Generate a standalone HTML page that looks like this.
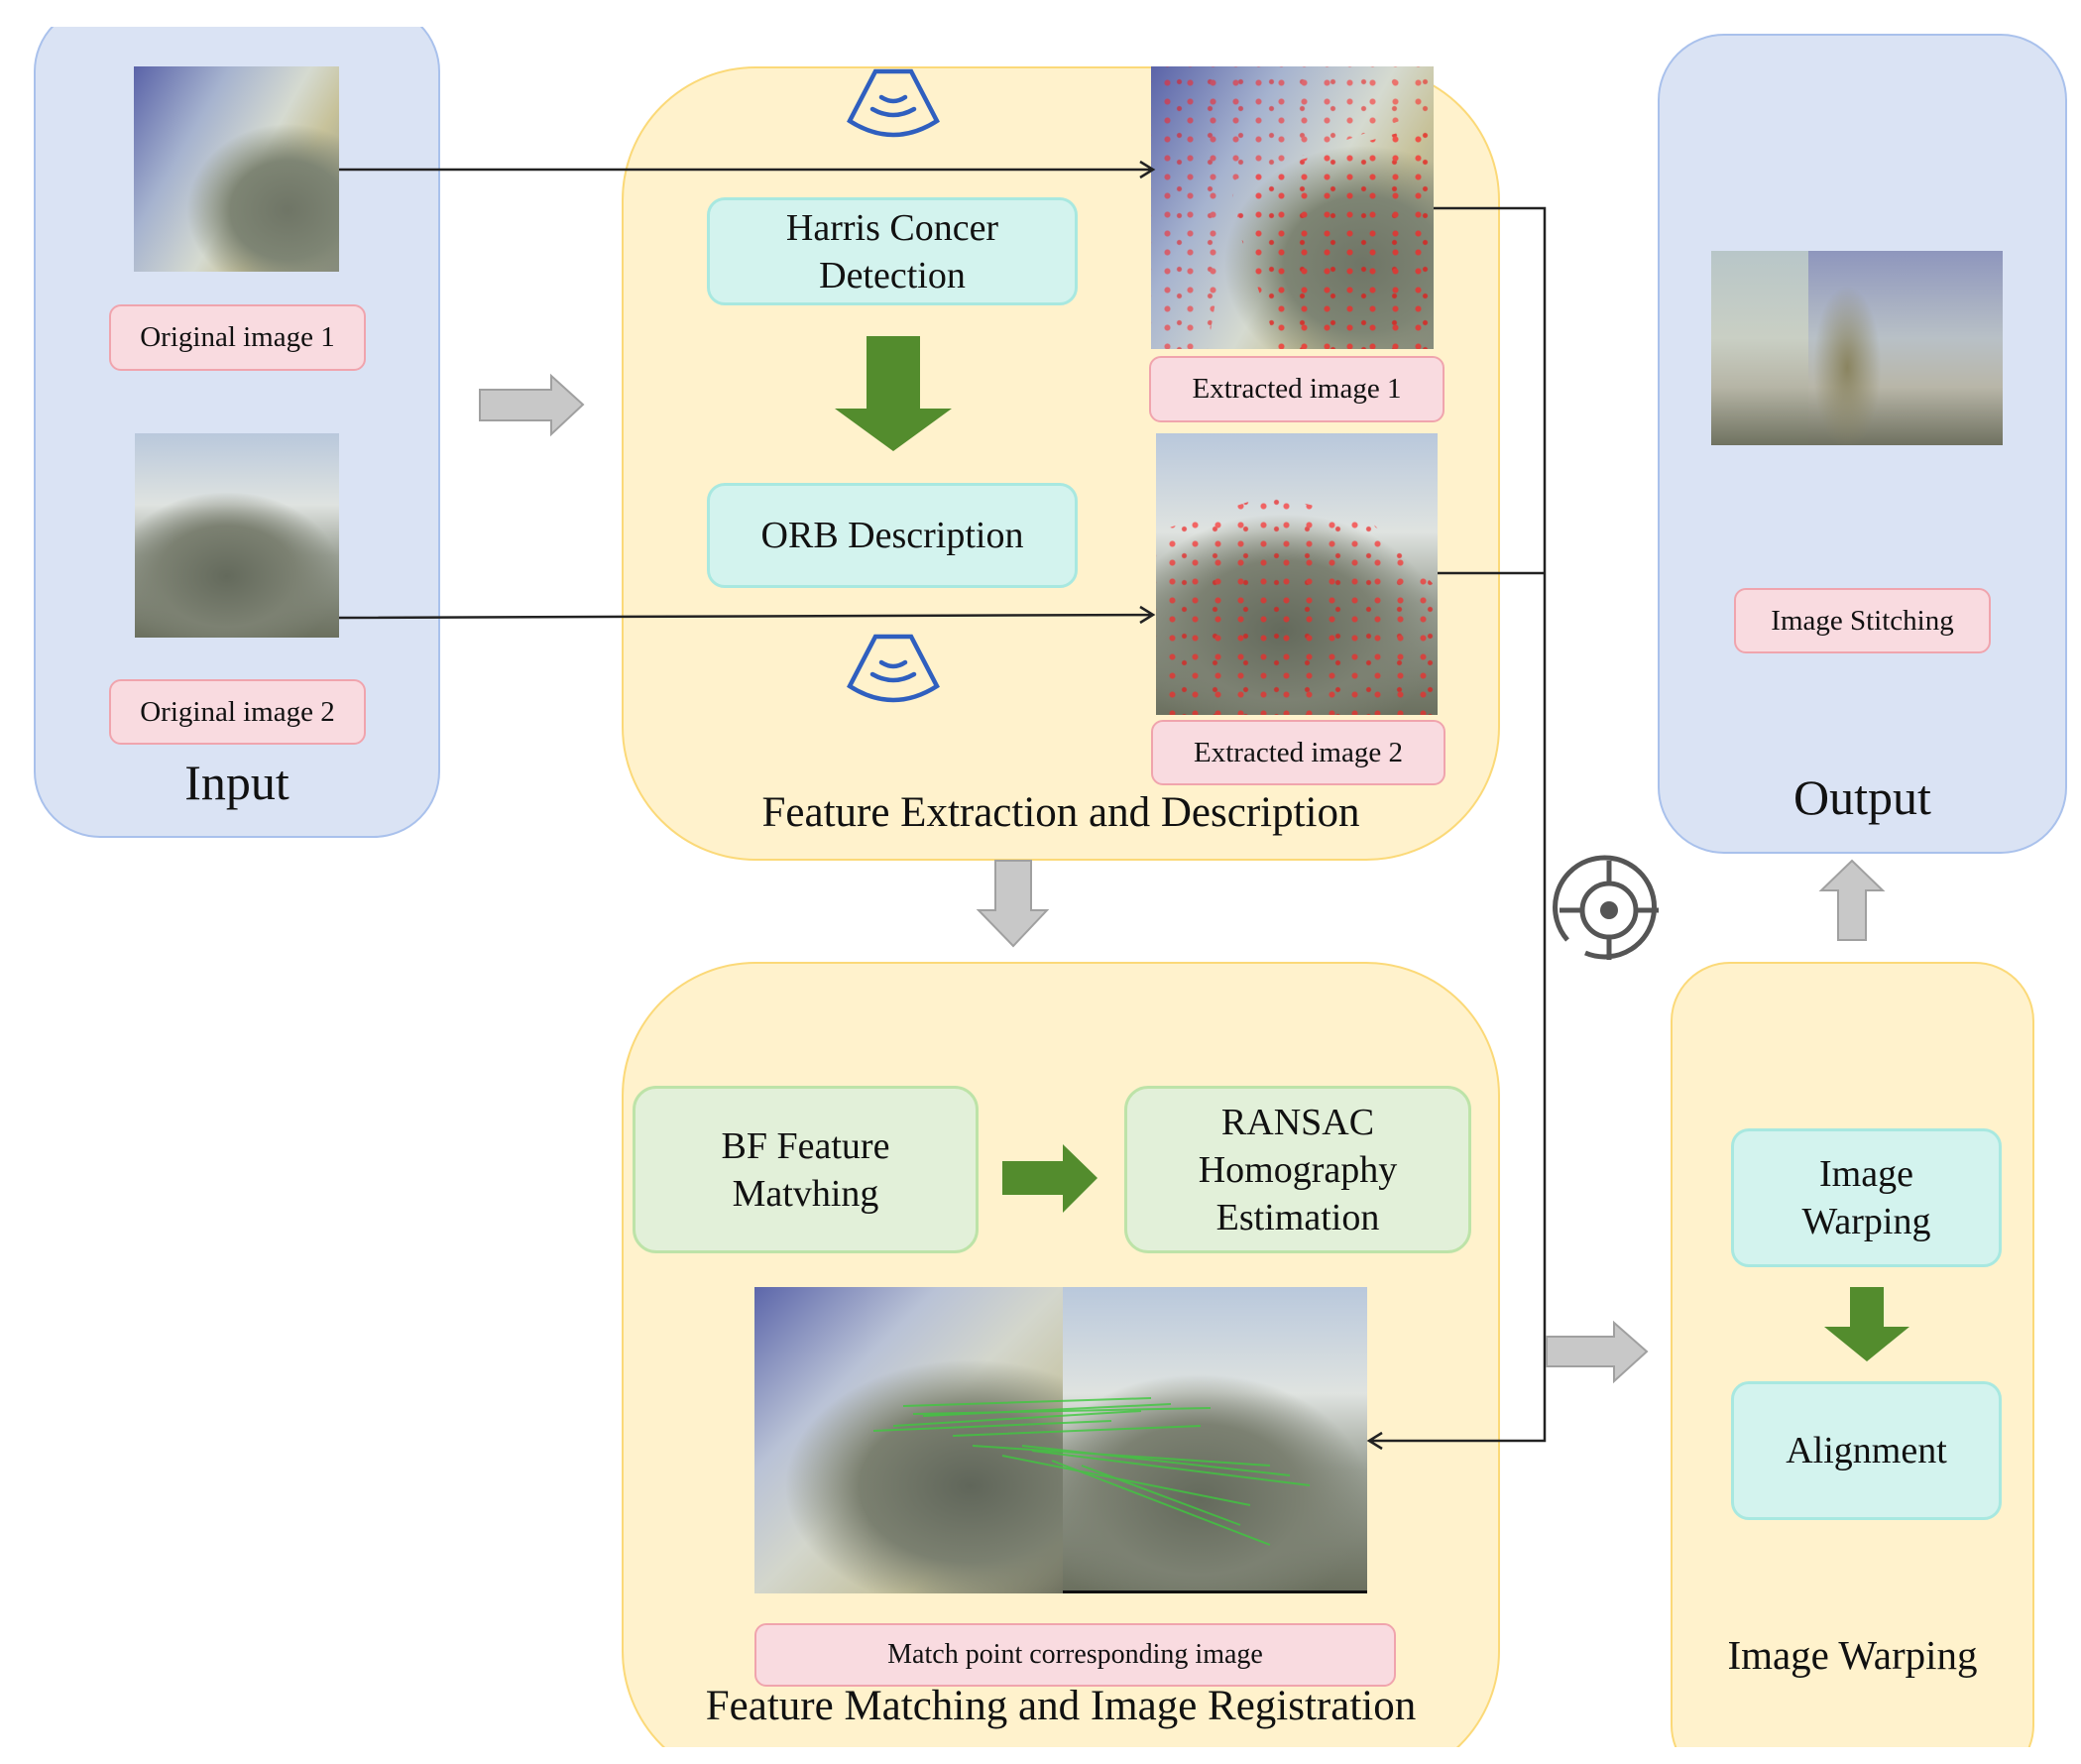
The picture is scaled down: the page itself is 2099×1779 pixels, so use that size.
<!DOCTYPE html>
<html><head><meta charset="utf-8"><style>
html,body{margin:0;padding:0;background:#fff;overflow:hidden}
body{width:2099px;height:1779px;position:relative;overflow:hidden;font-family:"Liberation Serif",serif;color:#111}
.a{position:absolute;box-sizing:border-box}
.panelB{background:#dae3f4;border:2px solid #a9c1ec}
.panelY{background:#fff2cc;border:2px solid #fbd978}
.lab{background:#f9dbe0;border:2px solid #f0a4ad;border-radius:12px;display:flex;align-items:center;justify-content:center;font-size:29px}
.cy{background:#d3f3ee;border:3px solid #a8e8e0;border-radius:18px;display:flex;align-items:center;justify-content:center;text-align:center;font-size:38px;line-height:48px}
.gr{background:#e2f0d9;border:3px solid #bde3a8;border-radius:24px;display:flex;align-items:center;justify-content:center;text-align:center;font-size:38px;line-height:48px}
.t{text-align:center;white-space:nowrap}
.img1{background:radial-gradient(ellipse 70% 60% at 75% 70%,#6f7566 0%,#7e8574 40%,transparent 70%),linear-gradient(120deg,#5a63a8 0%,#a6b3cf 30%,#d5dad0 55%,#c7c29a 70%,#8a8e80 100%)}
.img2{background:radial-gradient(ellipse 75% 55% at 45% 70%,#646a5c 0%,#7c8172 45%,transparent 75%),linear-gradient(180deg,#b9c8dc 0%,#dfe3e0 35%,#9aa095 60%,#6b705f 100%)}
.dots{background-image:radial-gradient(circle,#f22 0 2.5px,transparent 3.5px),radial-gradient(circle,#e11 0 2px,transparent 3px);background-size:23px 19px,31px 27px;background-position:5px 7px,13px 2px}
.clip{position:absolute;left:0;top:0;width:2099px;height:1762px;overflow:hidden}
</style></head><body>
<div class="clip">
<div class="a panelB" style="left:34px;top:5px;width:410px;height:840px;border-radius:67px"></div>
<div class="a panelY" style="left:627px;top:970px;width:886px;height:830px;border-radius:135px"></div>
<div class="a panelY" style="left:1685px;top:970px;width:367px;height:830px;border-radius:60px"></div>
</div>
<div class="a" style="left:0;top:0;width:500px;height:27px;background:#fff"></div>

<!-- Input panel -->
<div class="a img1" style="left:135px;top:67px;width:207px;height:207px"></div>
<div class="a lab" style="left:110px;top:307px;width:259px;height:67px">Original image 1</div>
<div class="a img2" style="left:136px;top:437px;width:206px;height:206px"></div>
<div class="a lab" style="left:110px;top:685px;width:259px;height:66px">Original image 2</div>
<div class="a t" style="left:34px;top:760px;width:410px;font-size:50px">Input</div>

<!-- Feature extraction panel -->
<div class="a panelY" style="left:627px;top:67px;width:886px;height:801px;border-radius:135px"></div>
<div class="a cy" style="left:713px;top:199px;width:374px;height:109px">Harris Concer<br>Detection</div>
<div class="a cy" style="left:713px;top:487px;width:374px;height:106px">ORB Description</div>
<div class="a img1" style="left:1161px;top:67px;width:285px;height:285px"></div>
<div class="a dots" style="left:1161px;top:67px;width:285px;height:285px;opacity:.55;clip-path:polygon(0 0,100% 0,100% 15%,30% 40%,20% 100%,0 100%)"></div>
<div class="a dots" style="left:1161px;top:67px;width:285px;height:285px;opacity:.7;clip-path:polygon(100% 20%,35% 38%,30% 55%,45% 100%,100% 100%)"></div>
<div class="a lab" style="left:1159px;top:359px;width:298px;height:67px">Extracted image 1</div>
<div class="a img2" style="left:1166px;top:437px;width:284px;height:284px"></div>
<div class="a dots" style="left:1166px;top:437px;width:284px;height:284px;opacity:.65;clip-path:polygon(0 35%,40% 22%,75% 30%,100% 55%,100% 100%,0 100%)"></div>
<div class="a lab" style="left:1161px;top:726px;width:297px;height:66px">Extracted image 2</div>
<div class="a t" style="left:627px;top:795px;width:886px;font-size:43px">Feature Extraction and Description</div>

<!-- Output panel -->
<div class="a panelB" style="left:1672px;top:34px;width:413px;height:827px;border-radius:67px"></div>
<div class="a" style="left:1726px;top:253px;width:98px;height:196px;background:linear-gradient(180deg,#b8c6c8 0%,#c9cfc4 45%,#b6b5a6 70%,#6f7260 100%)"></div>
<div class="a" style="left:1824px;top:253px;width:196px;height:196px;background:radial-gradient(ellipse 25% 60% at 20% 60%,#8a8460 0%,transparent 70%),linear-gradient(180deg,#8e96bd 0%,#b8c0c6 45%,#b8b6a8 70%,#6f7160 100%)"></div>
<div class="a lab" style="left:1749px;top:593px;width:259px;height:66px">Image Stitching</div>
<div class="a t" style="left:1672px;top:775px;width:413px;font-size:50px">Output</div>

<!-- Feature matching panel contents -->
<div class="a gr" style="left:638px;top:1095px;width:349px;height:169px">BF Feature<br>Matvhing</div>
<div class="a gr" style="left:1134px;top:1095px;width:350px;height:169px">RANSAC<br>Homography<br>Estimation</div>
<div class="a" style="left:761px;top:1298px;width:311px;height:309px;background:radial-gradient(ellipse 80% 55% at 70% 65%,#60665a 0%,#7b8070 45%,transparent 75%),linear-gradient(135deg,#5c66aa 0%,#b9c2d6 30%,#d3d6cc 50%,#c3bf98 75%,#6d6f5e 100%)"></div>
<div class="a img2" style="left:1072px;top:1298px;width:307px;height:309px;border-bottom:3px solid #111"></div>
<svg class="a" style="left:761px;top:1298px" width="618" height="309"><g stroke="#3ec83e" stroke-width="2" opacity=".8" fill="none">
<path d="M150 120L400 112M170 130L420 118M140 140L390 125M200 150L450 140M220 160L520 180M250 170L500 220M300 175L520 260M330 180L490 240M280 165L560 200M160 128L460 122M120 145L360 135M270 160L540 190"/></g></svg>
<div class="a lab" style="left:761px;top:1637px;width:647px;height:64px;font-size:28px">Match point corresponding image</div>
<div class="a t" style="left:627px;top:1696px;width:886px;font-size:43px">Feature Matching and Image Registration</div>

<!-- Image warping panel contents -->
<div class="a cy" style="left:1746px;top:1138px;width:273px;height:140px">Image<br>Warping</div>
<div class="a cy" style="left:1746px;top:1393px;width:273px;height:140px">Alignment</div>
<div class="a t" style="left:1685px;top:1645px;width:367px;font-size:41px">Image Warping</div>

<svg class="a" style="left:0;top:0" width="2099" height="1779">
<g stroke="#222" stroke-width="2.5" fill="none">
<path d="M342 171H1163M1150 163L1163 171L1150 179"/>
<path d="M342 623L1163 620M1150 612L1163 620L1150 628"/>
<path d="M1446 210H1558V1453H1381M1394 1445L1381 1453L1394 1461"/>
<path d="M1450 578H1558"/>
</g>
<g fill="#c8c8c8" stroke="#a0a0a0" stroke-width="2">
<path d="M484 393H556V379L588 408L556 438V424H484Z"/>
<path d="M1560 1348H1628V1334L1661 1363L1628 1393V1378H1560Z"/>
<path d="M1004 868H1040V918H1056L1022 954L987 918H1004Z"/>
<path d="M1854 948V898H1837L1868 868L1899 898H1882V948Z"/>
</g>
<g fill="#538c2d">
<path d="M874 339H928V412H960L901 455L842 412H874Z"/>
<path d="M1011 1171H1072V1154L1107 1188L1072 1223V1205H1011Z"/>
<path d="M1866 1298H1900V1338H1926L1883 1373L1840 1338H1866Z"/>
</g>
<g stroke="#2f5fbf" stroke-width="4.5" fill="none" stroke-linecap="round">
<path d="M883 72H919L945 122Q901 150 857 122Z"/><path d="M889 98Q901 106 913 98M880 110Q901 122 922 110"/>
<path d="M883 642H919L945 692Q901 720 857 692Z"/><path d="M889 668Q901 676 913 668M880 680Q901 692 922 680"/>
</g>
<g stroke="#555" stroke-width="5" fill="none">
<path d="M1581 948A50 50 0 1 1 1599 961"/>
<circle cx="1623" cy="918" r="27"/>
<path d="M1623 868V891M1623 945V968M1573 918H1596M1650 918H1673"/>
</g>
<circle cx="1623" cy="918" r="9" fill="#555"/>
</svg>
</body></html>
